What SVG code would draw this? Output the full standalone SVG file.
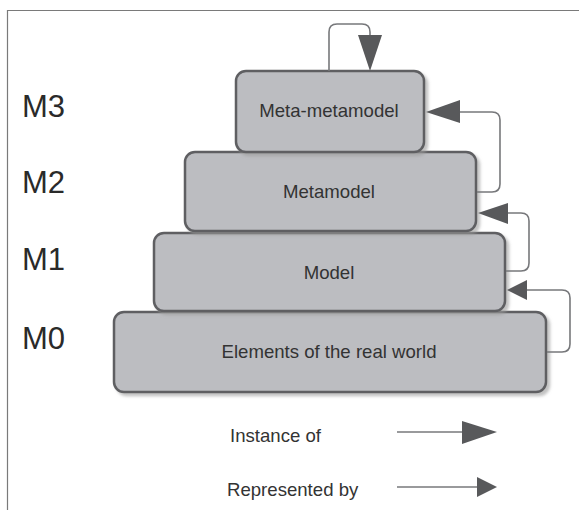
<svg xmlns="http://www.w3.org/2000/svg" width="579" height="510" viewBox="0 0 579 510">
<style>
.box{fill:#bcbdc1;stroke:#5e5f62;stroke-width:2.5;filter:url(#sh)}
.lbl{font-family:"Liberation Sans",Arial,sans-serif;font-size:18.6px;fill:#333;text-anchor:middle}
.lvl{font-family:"Liberation Sans",Arial,sans-serif;font-size:31px;fill:#2a2a2a}
.leg{font-family:"Liberation Sans",Arial,sans-serif;font-size:18.6px;fill:#333}
.ln{fill:none;stroke:#77787b;stroke-width:1.6}
.hd{fill:#58595b}
</style>
<defs>
<filter id="sh" x="-5%" y="-5%" width="115%" height="125%">
<feDropShadow dx="3" dy="3" stdDeviation="1.5" flood-color="#9a9a9a" flood-opacity="0.6"/>
</filter>
</defs>
<rect width="579" height="510" fill="#fff"/>
<path d="M7.5,510 V10.5 H579" fill="none" stroke="#7a7a7a" stroke-width="1.2"/>
<g id="levels">
<text class="lvl" x="22" y="117">M3</text>
<text class="lvl" x="22" y="193">M2</text>
<text class="lvl" x="22" y="270">M1</text>
<text class="lvl" x="22" y="349">M0</text>
</g>
<g id="node-m0">
<rect class="box" x="114" y="312" width="432" height="80" rx="10"/>
<text class="lbl" x="329" y="358">Elements of the real world</text>
</g>
<g id="node-m1">
<rect class="box" x="154" y="233" width="351" height="78" rx="10"/>
<text class="lbl" x="329" y="279">Model</text>
</g>
<g id="node-m2">
<rect class="box" x="185" y="152" width="291" height="79" rx="10"/>
<text class="lbl" x="329" y="198">Metamodel</text>
</g>
<g id="node-m3">
<rect class="box" x="236" y="71" width="188" height="81" rx="10"/>
<text class="lbl" x="329" y="117">Meta-metamodel</text>
</g>
<g id="connectors">
<path class="ln" d="M329,71 V32 Q329,24 337,24 H362 Q370,24 370,32 V36"/>
<polygon class="hd" points="358,35 382,35 370,71"/>
<path class="ln" d="M477,192 H492 Q500,192 500,184 V120 Q500,112 492,112 H459"/>
<polygon class="hd" points="460,100 460,123 426,112"/>
<path class="ln" d="M506,271 H521 Q529,271 529,263 V221 Q529,213 521,213 H507"/>
<polygon class="hd" points="508,203 508,224 478,213"/>
<path class="ln" d="M547,352 H562 Q570,352 570,344 V298 Q570,290 562,290 H526"/>
<polygon class="hd" points="527,280 527,300 507,290"/>
</g>
<g id="legend">
<text class="leg" x="230" y="442">Instance of</text>
<path class="ln" d="M397,432 H463"/>
<polygon class="hd" points="462,421 462,444 497,432"/>
<text class="leg" x="227" y="496">Represented by</text>
<path class="ln" d="M397,487 H478"/>
<polygon class="hd" points="477,477 477,497 497,487"/>
</g>
</svg>
